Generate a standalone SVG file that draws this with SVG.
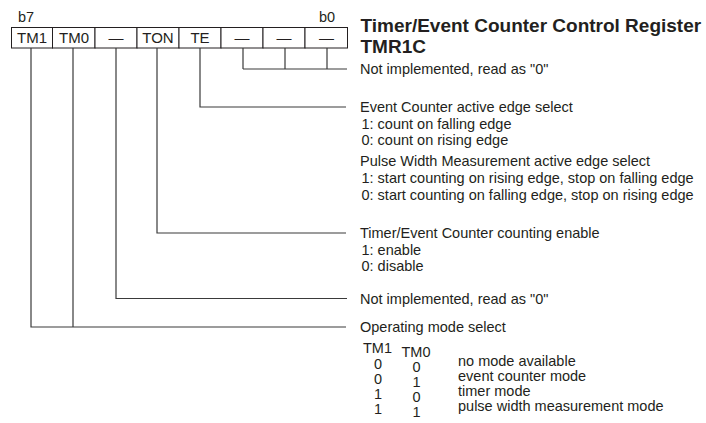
<svg xmlns="http://www.w3.org/2000/svg" width="706" height="423" viewBox="0 0 706 423">
<style>
  .t { font-family: "Liberation Sans", Arial, sans-serif; font-size: 14.5px; fill: #231f20; }
  .c { font-family: "Liberation Sans", Arial, sans-serif; font-size: 15px; fill: #231f20; text-anchor: middle; }
  .h { font-family: "Liberation Sans", Arial, sans-serif; font-size: 19px; font-weight: bold; fill: #231f20; }
  .n { text-anchor: middle; }
  .cell { fill: #ffffff; stroke: #231f20; stroke-width: 1; }
  .ln { fill: none; stroke: #3a3a3a; stroke-width: 1.2; }
</style>
<rect width="706" height="423" fill="#ffffff"/>

<g id="title">
  <text class="h" x="360.5" y="32">Timer/Event Counter Control Register</text>
  <text class="h" x="360.5" y="53">TMR1C</text>
</g>

<g id="register">
  <text class="t" x="18" y="21.5">b7</text>
  <text class="t" x="319" y="21.5">b0</text>
  <g id="bit7"><rect class="cell" x="11.5" y="27.5" width="41" height="20.5"/><text class="c" x="32" y="43">TM1</text></g>
  <g id="bit6"><rect class="cell" x="52.5" y="27.5" width="42.5" height="20.5"/><text class="c" x="74" y="43">TM0</text></g>
  <g id="bit5"><rect class="cell" x="95" y="27.5" width="42" height="20.5"/><text class="c" x="116" y="43">—</text></g>
  <g id="bit4"><rect class="cell" x="137" y="27.5" width="42" height="20.5"/><text class="c" x="158" y="43">TON</text></g>
  <g id="bit3"><rect class="cell" x="179" y="27.5" width="42" height="20.5"/><text class="c" x="200" y="43">TE</text></g>
  <g id="bit2"><rect class="cell" x="221" y="27.5" width="42" height="20.5"/><text class="c" x="242" y="43">—</text></g>
  <g id="bit1"><rect class="cell" x="263" y="27.5" width="42" height="20.5"/><text class="c" x="284" y="43">—</text></g>
  <g id="bit0"><rect class="cell" x="305" y="27.5" width="42.5" height="20.5"/><text class="c" x="326.5" y="43">—</text></g>
</g>

<g id="connectors">
  <path class="ln" d="M243 48V69M285 48V69M327 48V69M243 69H347"/>
  <path class="ln" d="M200 48V107H346"/>
  <path class="ln" d="M157 48V233H346"/>
  <path class="ln" d="M116 48V298.5H347"/>
  <path class="ln" d="M73 48V327M31 48V327H346"/>
</g>

<g id="desc-bits2-0">
  <text class="t" x="360" y="74">Not implemented, read as "0"</text>
</g>

<g id="desc-te">
  <text class="t" x="360" y="112">Event Counter active edge select</text>
  <text class="t" x="361.5" y="128.5">1: count on falling edge</text>
  <text class="t" x="361.5" y="145">0: count on rising edge</text>
  <text class="t" x="360" y="165.5">Pulse Width Measurement active edge select</text>
  <text class="t" x="361.5" y="182.5">1: start counting on rising edge, stop on falling edge</text>
  <text class="t" x="361.5" y="199.5">0: start counting on falling edge, stop on rising edge</text>
</g>

<g id="desc-ton">
  <text class="t" x="360" y="238">Timer/Event Counter counting enable</text>
  <text class="t" x="361.5" y="254.5">1: enable</text>
  <text class="t" x="361.5" y="271">0: disable</text>
</g>

<g id="desc-bit5">
  <text class="t" x="360" y="303.5">Not implemented, read as "0"</text>
</g>

<g id="desc-tm">
  <text class="t" x="360" y="331.5">Operating mode select</text>
  <text class="t n" x="377.5" y="353">TM1</text>
  <text class="t n" x="416" y="357">TM0</text>
  <text class="t n" x="378" y="368.5">0</text>
  <text class="t n" x="416.5" y="372">0</text>
  <text class="t" x="458" y="366">no mode available</text>
  <text class="t n" x="378" y="383.5">0</text>
  <text class="t n" x="416.5" y="387">1</text>
  <text class="t" x="458" y="381">event counter mode</text>
  <text class="t n" x="378" y="398.5">1</text>
  <text class="t n" x="416.5" y="402">0</text>
  <text class="t" x="458" y="396">timer mode</text>
  <text class="t n" x="378" y="413.5">1</text>
  <text class="t n" x="416.5" y="417">1</text>
  <text class="t" x="458" y="411">pulse width measurement mode</text>
</g>
</svg>
